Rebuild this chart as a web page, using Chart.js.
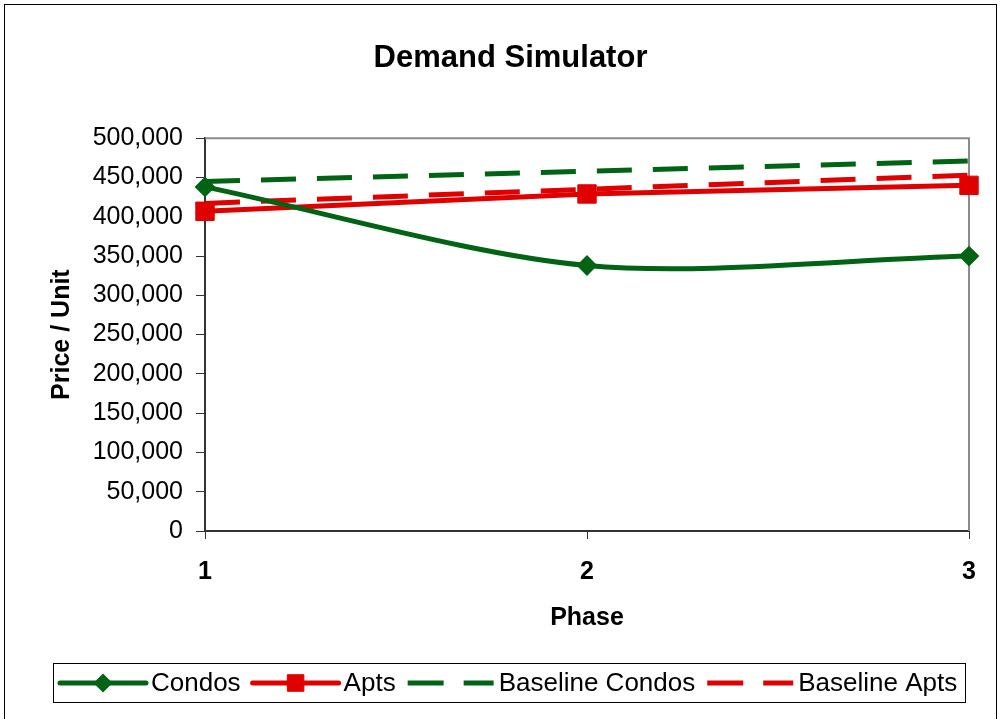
<!DOCTYPE html>
<html>
<head>
<meta charset="utf-8">
<title>Demand Simulator</title>
<script src="https://cdn.jsdelivr.net/npm/chart.js@4.4.1/dist/chart.umd.min.js"></script>
<style>
  html, body { margin: 0; padding: 0; background: #fff; }
  #wrap { width: 1000px; height: 719px; }
</style>
</head>
<body>
<div id="wrap"><canvas id="c" width="1000" height="719"></canvas></div>
<script>
// Phases on the x axis
const phases = ['1', '2', '3'];

// Price per unit for each phase
const condos = [438000, 338000, 350000];
const apts = [407000, 429000, 440000];
const baselineCondos = [445000, 458000, 471000];
const baselineApts = [417000, 435000, 453000];

// Price axis range
const priceMin = 0;
const priceMax = 500000;
const priceStep = 50000;

const GREEN = '#006414';
const RED = '#E00000';
const FONT = "'Liberation Sans', Arial, sans-serif";

// White page plus the thin frame around the whole chart
const framePlugin = {
  id: 'frame',
  beforeDraw(chart) {
    const ctx = chart.ctx;
    ctx.save();
    ctx.fillStyle = '#fff';
    ctx.fillRect(0, 0, chart.width, chart.height);
    ctx.strokeStyle = '#000';
    ctx.lineWidth = 1;
    ctx.strokeRect(4.5, 4.5, 992, 730);
    ctx.restore();
  }
};

// Grey top and right edges of the plot area
const plotEdgePlugin = {
  id: 'plotEdge',
  beforeDatasetsDraw(chart) {
    const { ctx, chartArea: a } = chart;
    ctx.save();
    ctx.strokeStyle = '#8a8a8a';
    ctx.lineWidth = 2;
    ctx.beginPath();
    ctx.moveTo(a.left, a.top);
    ctx.lineTo(a.right, a.top);
    ctx.lineTo(a.right, a.bottom);
    ctx.stroke();
    ctx.restore();
  }
};

// Boxed legend along the bottom, one line sample (with marker) per series
const boxLegendPlugin = {
  id: 'boxLegend',
  afterDraw(chart) {
    const ctx = chart.ctx;
    const box = { x: 53, y: 663, w: 913, h: 40 };
    const cy = box.y + box.h / 2;
    const sampleLen = 86;
    ctx.save();
    ctx.strokeStyle = '#000';
    ctx.lineWidth = 1;
    ctx.strokeRect(box.x + 0.5, box.y + 0.5, box.w - 1, box.h - 1);
    ctx.font = '26px ' + FONT;
    ctx.textBaseline = 'middle';
    let x = 60;
    chart.data.datasets.forEach(ds => {
      ctx.save();
      ctx.strokeStyle = ds.borderColor;
      ctx.lineWidth = 5;
      ctx.lineCap = ds.borderDash ? 'butt' : 'round';
      ctx.setLineDash(ds.borderDash ? [36, 20] : []);
      ctx.beginPath();
      ctx.moveTo(x, cy);
      ctx.lineTo(x + sampleLen, cy);
      ctx.stroke();
      ctx.restore();
      if (ds.pointRadius > 0) {
        ctx.save();
        ctx.fillStyle = ds.pointBackgroundColor;
        ctx.strokeStyle = ds.pointBorderColor;
        ctx.lineWidth = ds.pointBorderWidth;
        Chart.helpers.drawPoint(ctx, {
          pointStyle: ds.pointStyle,
          radius: ds.pointRadius * 0.9,
          rotation: 0,
          borderWidth: ds.pointBorderWidth
        }, x + sampleLen / 2, cy);
        ctx.restore();
      }
      x += sampleLen + 5;
      ctx.fillStyle = '#000';
      ctx.fillText(ds.label, x, cy + 1);
      x += ctx.measureText(ds.label).width + 12;
    });
    ctx.restore();
  }
};

new Chart(document.getElementById('c'), {
  type: 'line',
  data: {
    labels: phases,
    datasets: [
      {
        label: 'Condos',
        data: condos,
        borderColor: GREEN,
        backgroundColor: GREEN,
        borderWidth: 5,
        tension: 0.3,
        pointStyle: 'rectRot',
        pointRadius: 9,
        pointBorderWidth: 2,
        pointBackgroundColor: GREEN,
        pointBorderColor: GREEN
      },
      {
        label: 'Apts',
        data: apts,
        borderColor: RED,
        backgroundColor: RED,
        borderWidth: 5,
        tension: 0,
        pointStyle: 'rect',
        pointRadius: 13,
        pointBorderWidth: 1,
        pointBackgroundColor: RED,
        pointBorderColor: RED
      },
      {
        label: 'Baseline Condos',
        data: baselineCondos,
        borderColor: GREEN,
        backgroundColor: GREEN,
        borderWidth: 5,
        borderDash: [35, 21],
        tension: 0,
        pointRadius: 0
      },
      {
        label: 'Baseline Apts',
        data: baselineApts,
        borderColor: RED,
        backgroundColor: RED,
        borderWidth: 5,
        borderDash: [35, 21],
        tension: 0,
        pointRadius: 0
      }
    ]
  },
  options: {
    responsive: false,
    animation: false,
    layout: { padding: { left: 52, right: 31, top: 0, bottom: 83 } },
    plugins: {
      legend: { display: false },
      tooltip: { enabled: false },
      title: {
        display: true,
        text: 'Demand Simulator',
        color: '#000',
        font: { family: FONT, size: 31, weight: 'bold' },
        padding: { top: 40, bottom: 61 }
      }
    },
    scales: {
      x: {
        type: 'category',
        offset: false,
        grid: { display: true, drawOnChartArea: false, drawTicks: true, tickLength: 8, color: '#333', lineWidth: 1 },
        border: { display: true, color: '#333', width: 2 },
        ticks: {
          color: '#000',
          font: { family: FONT, size: 25, weight: 'bold' },
          padding: 18,
          maxRotation: 0,
          autoSkip: false
        },
        title: {
          display: true,
          text: 'Phase',
          color: '#000',
          font: { family: FONT, size: 25, weight: 'bold' },
          padding: { top: 0, bottom: 3 }
        },
        afterFit: (s) => { s.height = 105; }
      },
      y: {
        min: priceMin,
        max: priceMax,
        grid: { display: true, drawOnChartArea: false, drawTicks: true, tickLength: 9, color: '#333', lineWidth: 1 },
        border: { display: true, color: '#333', width: 2 },
        ticks: {
          stepSize: priceStep,
          color: '#000',
          font: { family: FONT, size: 25 },
          padding: 13,
          callback: (v) => v.toLocaleString('en-US')
        },
        title: {
          display: true,
          text: 'Price / Unit',
          color: '#000',
          font: { family: FONT, size: 25, weight: 'bold' },
          padding: { top: -5, bottom: 0 }
        },
        afterFit: (s) => { s.width = 153; }
      }
    }
  },
  plugins: [framePlugin, plotEdgePlugin, boxLegendPlugin]
});
</script>
</body>
</html>
